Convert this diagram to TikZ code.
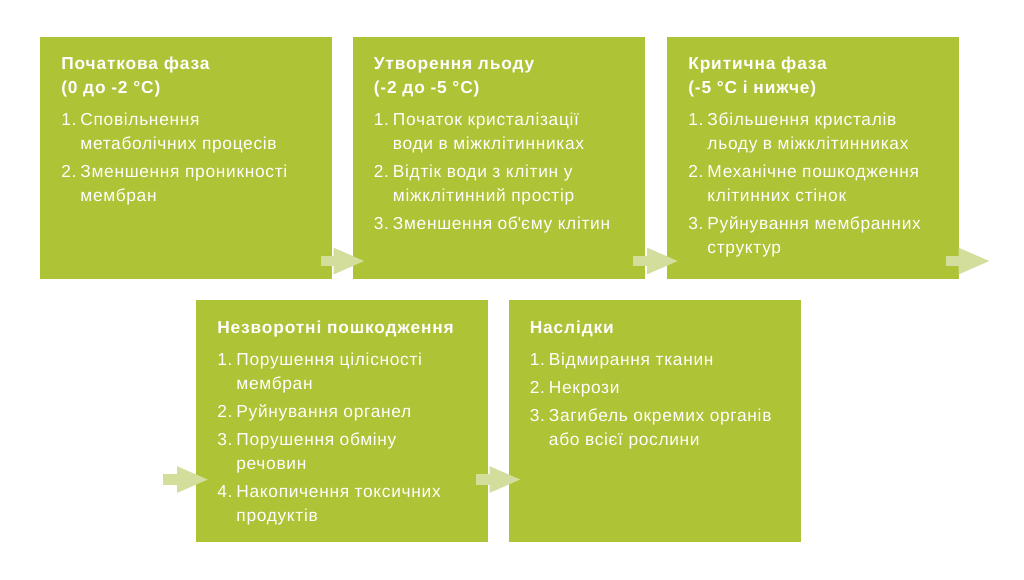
\documentclass[tikz,border=0pt]{standalone}
\usepackage{fontspec}
\setmainfont{Liberation Sans}[LetterSpace=4, BoldFeatures={LetterSpace=5}]
\usepackage{array}
\usetikzlibrary{arrows.meta, calc, positioning}
\definecolor{leaf}{HTML}{AEC336}
\definecolor{leaflight}{HTML}{D3DE9D}

\begin{document}
\begin{tikzpicture}[x=0.75pt, y=-0.75pt,
    phase/.style={rectangle, fill=leaf, inner sep=0pt, minimum width=219pt, minimum height=181.5pt, anchor=north west},
    phasetext/.style={anchor=north west, inner sep=0pt, text=white, font=\fontsize{13pt}{18pt}\selectfont},
    flow/.style={leaflight, line width=8pt, -{Triangle[length=24pt, width=18pt]}}]
    \useasboundingbox (0,0) rectangle (1024,580);
    % boxes
    \node[phase] (p1) at (40,37) {};
    \node[phase, right=15pt of p1] (p2) {};
    \node[phase, right=16.5pt of p2] (p3) {};
    \node[phase] (p4) at (196,300) {};
    \node[phase, right=15pt of p4] (p5) {};
    % texts
    \node[phasetext] (t1) at ($(p1.north west)+(21,15)$) {\begin{tabular}{@{}l@{\hspace{3pt}}l@{}}
        \multicolumn{2}{@{}l@{}}{\bfseries Початкова фаза}\\
        \multicolumn{2}{@{}l@{}}{\bfseries (0 до -2 °C)}\\[6pt]
        1. & Сповільнення\\
           & метаболічних процесів\\[3pt]
        2. & Зменшення проникності\\
           & мембран
        \end{tabular}};
    \node[phasetext] (t2) at ($(p2.north west)+(21,15)$) {\begin{tabular}{@{}l@{\hspace{3pt}}l@{}}
        \multicolumn{2}{@{}l@{}}{\bfseries Утворення льоду}\\
        \multicolumn{2}{@{}l@{}}{\bfseries (-2 до -5 °C)}\\[6pt]
        1. & Початок кристалізації\\
           & води в міжклітинниках\\[3pt]
        2. & Відтік води з клітин у\\
           & міжклітинний простір\\[3pt]
        3. & Зменшення об\textquotesingle єму клітин
        \end{tabular}};
    \node[phasetext] (t3) at ($(p3.north west)+(21,15)$) {\begin{tabular}{@{}l@{\hspace{3pt}}l@{}}
        \multicolumn{2}{@{}l@{}}{\bfseries Критична фаза}\\
        \multicolumn{2}{@{}l@{}}{\bfseries (-5 °C і нижче)}\\[6pt]
        1. & Збільшення кристалів\\
           & льоду в міжклітинниках\\[3pt]
        2. & Механічне пошкодження\\
           & клітинних стінок\\[3pt]
        3. & Руйнування мембранних\\
           & структур
        \end{tabular}};
    \node[phasetext] (t4) at ($(p4.north west)+(21,16)$) {\begin{tabular}{@{}l@{\hspace{3pt}}l@{}}
        \multicolumn{2}{@{}l@{}}{\bfseries Незворотні пошкодження}\\[6pt]
        1. & Порушення цілісності\\
           & мембран\\[3pt]
        2. & Руйнування органел\\[3pt]
        3. & Порушення обміну\\
           & речовин\\[3pt]
        4. & Накопичення токсичних\\
           & продуктів
        \end{tabular}};
    \node[phasetext] (t5) at ($(p5.north west)+(21,16)$) {\begin{tabular}{@{}l@{\hspace{3pt}}l@{}}
        \multicolumn{2}{@{}l@{}}{\bfseries Наслідки}\\[6pt]
        1. & Відмирання тканин\\[3pt]
        2. & Некрози\\[3pt]
        3. & Загибель окремих органів\\
           & або всієї рослини
        \end{tabular}};
    % arrows
    \coordinate (out3) at ($(p3.south east)+(31,-18.5)$);
    \coordinate (in4) at ($(p4.south west)+(-33,-63)$);
    \draw[flow] ($(p1.south east)+(-12,-18.5)$) -- ($(p2.south west)+(13,-18.5)$);
    \draw[flow] ($(p2.south east)+(-12,-18.5)$) -- ($(p3.south west)+(12,-18.5)$);
    \draw[flow] ($(p3.south east)+(-14,-18.5)$) -- (out3);
    \draw[flow] (in4) -- ($(p4.south west)+(13,-63)$);
    \draw[flow] ($(p4.south east)+(-13,-63)$) -- ($(p5.south west)+(13,-63)$);
\end{tikzpicture}
\end{document}
